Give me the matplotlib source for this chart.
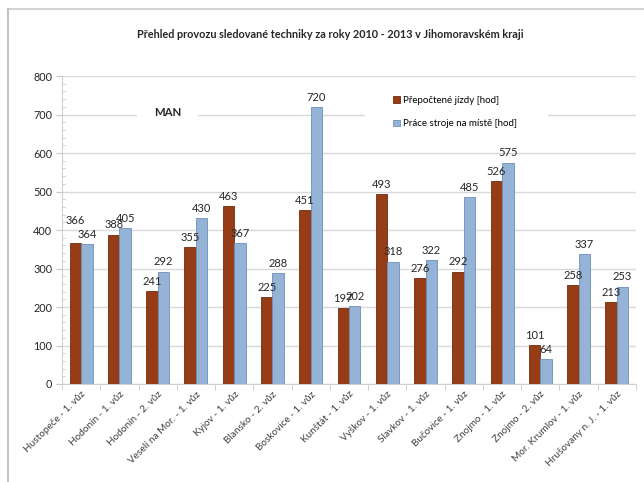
import matplotlib
matplotlib.use("Agg")
import matplotlib.pyplot as plt
import numpy as np
from matplotlib.ticker import MultipleLocator
from matplotlib.lines import Line2D
from matplotlib.patches import Rectangle

plt.rcParams['font.family'] = ['Lato', 'DejaVu Sans']

categories = ["Hustopeče - 1. vůz", "Hodonín - 1. vůz", "Hodonín - 2. vůz",
              "Veselí na Mor. - 1. vůz", "Kyjov - 1. vůz", "Blansko - 2. vůz",
              "Boskovice - 1. vůz", "Kunštát - 1. vůz", "Vyškov - 1. vůz",
              "Slavkov - 1. vůz", "Bučovice - 1. vůz", "Znojmo - 1. vůz",
              "Znojmo - 2. vůz", "Mor. Krumlov - 1. vůz", "Hrušovany n. J. - 1. vůz"]
jizdy = [366, 388, 241, 355, 463, 225, 451, 197, 493, 276, 292, 526, 101, 258, 213]
prace = [364, 405, 292, 430, 367, 288, 720, 202, 318, 322, 485, 575, 64, 337, 253]
series_names = ["Přepočtené jízdy [hod]", "Práce stroje na místě [hod]"]
title = "Přehled provozu sledované techniky za roky 2010 - 2013 v Jihomoravském kraji"

fig = plt.figure(figsize=(6.44, 4.82), dpi=100)
ax = fig.add_axes([62/644, 98/482, 574/644, 308/482])

# outer frame
fig.add_artist(Line2D([7.5/644, 1.0], [1 - 9/482, 1 - 9/482], transform=fig.transFigure,
                      color='#d4d4d4', lw=1.5))
fig.add_artist(Line2D([7.5/644, 7.5/644], [0, 1 - 9/482], transform=fig.transFigure,
                      color='#c4c4c4', lw=1.5))

x = np.arange(len(categories))
w = 0.3
brown, brown_e = '#963d17', '#6e2c10'
blue, blue_e = '#95b3d7', '#6f8fb8'
ax.bar(x - w/2, jizdy, w, color=brown, edgecolor=brown_e, linewidth=0.6,
       label=series_names[0], zorder=3)
ax.bar(x + w/2, prace, w, color=blue, edgecolor=blue_e, linewidth=0.6,
       label=series_names[1], zorder=3)

lab_kw = dict(fontsize=8, color='#262626', ha='center', va='bottom', zorder=4)
for i, (xi, v) in enumerate(zip(x - w/2, jizdy)):
    off = 12 if i == 0 else 3
    ax.annotate(str(v), (xi, v), xytext=(0, off), textcoords='offset points', **lab_kw)
for xi, v in zip(x + w/2, prace):
    ax.annotate(str(v), (xi, v), xytext=(0, 3), textcoords='offset points', **lab_kw)

ax.set_xlim(-0.5, len(categories) - 0.5)
ax.set_ylim(0, 800)
ax.yaxis.set_major_locator(MultipleLocator(100))
ax.yaxis.set_minor_locator(MultipleLocator(20))
ax.grid(axis='y', color='#d9d9d9', lw=1.0, zorder=0)
ax.set_axisbelow(True)
for s in ['top', 'right']:
    ax.spines[s].set_visible(False)
ax.spines['left'].set_color('#d0d0d0')
ax.spines['bottom'].set_color('#d0d0d0')
ax.tick_params(axis='y', which='major', length=4, color='#c8c8c8', labelsize=7.8,
               labelcolor='#262626', pad=3)
ax.tick_params(axis='y', which='minor', length=2, direction='in', color='#c8c8c8')

ax.set_xticks(x)
ax.set_xticklabels(categories, rotation=45, ha='right', rotation_mode='anchor',
                   fontsize=7.2, color='#404040')
ax.tick_params(axis='x', which='major', length=0, pad=4)
ax.set_xticks(np.arange(len(categories) + 1) - 0.5, minor=True)
ax.tick_params(axis='x', which='minor', length=4, color='#c8c8c8')

fig.text(330/644, 1 - 35/482, title, ha='center', va='center', fontsize=7.8,
         fontweight='bold', color='#262626')

# white backgrounds of MAN text box and legend (cover the 700 gridline)
for (rx, ry, rw, rh) in [(137, 124, 61, 22), (365, 136, 183, 52)]:
    ax.add_artist(Rectangle((rx/644, 1 - ry/482), rw/644, rh/482, transform=fig.transFigure,
                            facecolor='white', edgecolor='none', zorder=2, clip_on=False))
ax.text(168/644, 1 - 113/482, "MAN", transform=fig.transFigure, ha='center', va='center',
        fontsize=8.2, fontweight='bold', color='#262626', zorder=5)

leg = ax.legend(loc='upper left', bbox_to_anchor=(385/644, 1 - 88/482),
                bbox_transform=fig.transFigure, frameon=False, fontsize=7,
                handlelength=0.7, handleheight=0.7, handletextpad=0.4,
                labelspacing=1.5, borderpad=0.3)
leg.set_zorder(5)

fig.savefig("out.png", dpi=100)
